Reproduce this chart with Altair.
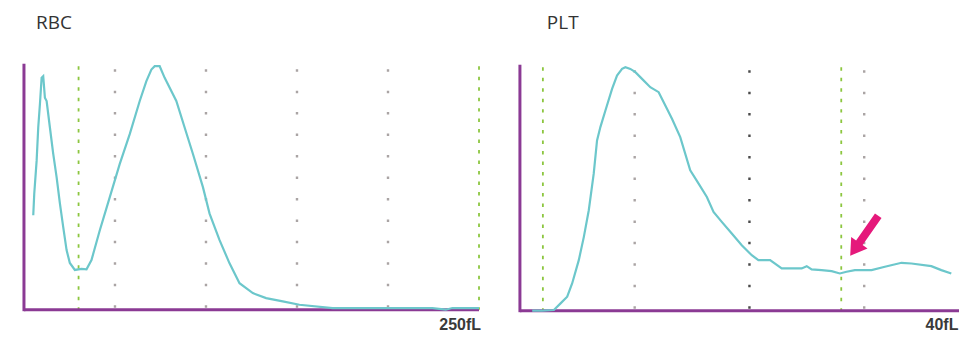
import altair as alt
import pandas as pd

# ---------------- data ----------------
panel_titles = ["RBC", "PLT"]
end_labels = ["250fL", "40fL"]

rbc_fl = [5.1, 5.65, 6.96, 7.84, 8.77, 9.7, 10.58, 11.5, 12.45, 14.25, 16.06, 17.93,
          19.74, 21.55, 23.41, 25.2, 27.96, 31.6, 34.36, 37.1, 41.67, 47.15, 52.63,
          58.11, 63.6, 67.25, 70.0, 71.82, 74.56, 77.3, 83.7, 88.27, 92.84, 98.32,
          101.97, 107.46, 112.94, 118.42, 125.73, 133.04, 142.18, 151.32, 169.59,
          187.87, 224.41, 231.73, 235.38, 250.0]
rbc_count = [285, 350, 450, 550, 621, 700, 705, 640, 630, 550, 471, 400,
             321, 250, 180, 141, 120, 123, 122, 150, 240, 340, 440,
             530, 630, 690, 725, 735, 735, 700, 630, 550, 470, 370,
             290, 210, 140, 80, 50, 35, 25, 15, 5,
             5, 5, 0, 5, 5]

# visible part of the PLT curve
plt_fl = [1.07, 1.94, 2.96, 3.54, 4.12, 4.55, 5.13, 5.57, 6.0, 6.43, 6.72, 7.01,
          7.45, 8.03, 8.46, 8.9, 9.19, 9.62, 10.06, 10.64, 11.36, 12.09, 12.67,
          13.25, 13.97, 14.84, 15.57, 16.29, 16.87, 17.59, 18.46, 19.33, 20.2,
          20.78, 21.8, 22.81, 23.68, 24.55, 24.99, 25.42, 26.29, 27.16, 27.88,
          28.46, 29.19, 30.64, 31.8, 33.25, 34.12, 35.85, 36.72, 37.59]
plt_count = [0, 0, 2, 22, 42, 82, 152, 222, 302, 412, 512, 552,
             602, 667, 707, 727, 732, 727, 717, 697, 672, 657, 617,
             577, 522, 422, 382, 342, 297, 267, 232, 197, 167,
             152, 152, 127, 127, 127, 134, 124, 122, 119, 112,
             117, 122, 122, 132, 144, 142, 134, 122, 112]

rbc_green = [30, 250]
rbc_gray = [50, 100, 150, 200]
plt_green = [2, 28]
plt_gray = [10, 30]
plt_dark = [20]

rbc_top = 735
plt_top = 732
rbc_end = 250

arrow_fl = [28.78]
arrow_count = [165]

# ---------------- geometry (pixels in the svg) ----------------
H = 323
W1 = 487
SP = 5
W2 = 953 - W1 - SP
# left panel: 0 fL at x=16, 1.824 px per fL; 0 count at y=302, 244 px for 735
k1x = 1.824
k1y = 244 / 735
x1dom = [-16 / k1x, (W1 - 16) / k1x]
y1dom = [-(H - 302) / k1y, 302 / k1y]
# right panel: 0 fL at x=21 in panel, 11.5 px per fL; 0 count at y=303, 244 px for 732
k2x = 11.5
k2y = 244 / 732
x2dom = [-21 / k2x, (W2 - 21) / k2x]
y2dom = [-(H - 303) / k2y, 303 / k2y]

PURPLE = "#8b3a94"
CYAN = "#6cc7cb"
GREEN = "#8cc63f"
GRAY = "#aaa4a4"
DARK = "#4a4a4a"
PINK = "#e5197b"


def panel(fl, cnt, top, end, greens, grays, darks, xdom, ydom, w, title, title_pos,
          label, label_pos, arrow=None):
    sx = alt.Scale(domain=xdom, nice=False, zero=False)
    sy = alt.Scale(domain=ydom, nice=False, zero=False)

    def X(f):
        return alt.X(f, type="quantitative", scale=sx, axis=None)

    def Y(f):
        return alt.Y(f, type="quantitative", scale=sy, axis=None)

    layers = []
    g = pd.DataFrame({"x": greens, "top": [top] * len(greens), "b": [0] * len(greens)})
    layers.append(alt.Chart(g).mark_rule(color=GREEN, strokeWidth=1.8, strokeDash=[3.5, 7])
                  .encode(x=X("x"), y=Y("top"), y2="b"))
    gr = pd.DataFrame({"x": grays, "top": [top - 9] * len(grays), "b": [0] * len(grays)})
    layers.append(alt.Chart(gr).mark_rule(color=GRAY, strokeWidth=2.4, strokeDash=[2.5, 19])
                  .encode(x=X("x"), y=Y("top"), y2="b"))
    if darks:
        dk = pd.DataFrame({"x": darks, "top": [top - 9] * len(darks), "b": [0] * len(darks)})
        layers.append(alt.Chart(dk).mark_rule(color=DARK, strokeWidth=2.4, strokeDash=[2.5, 19])
                      .encode(x=X("x"), y=Y("top"), y2="b"))
    # axes
    ya = pd.DataFrame({"x": [0], "y": [0], "y2": [top + 3]})
    layers.append(alt.Chart(ya).mark_rule(color=PURPLE, strokeWidth=3, strokeCap="square")
                  .encode(x=X("x"), y=Y("y"), y2="y2"))
    xa = pd.DataFrame({"x": [0], "x2": [end], "y": [0]})
    layers.append(alt.Chart(xa).mark_rule(color=PURPLE, strokeWidth=3)
                  .encode(x=X("x"), x2="x2", y=Y("y")))
    # curve
    c = pd.DataFrame({"fl": fl, "n": cnt})
    layers.append(alt.Chart(c).mark_line(color=CYAN, strokeWidth=2.2)
                  .encode(x=X("fl"), y=Y("n")))
    # title
    t = pd.DataFrame({"x": [title_pos[0]], "y": [title_pos[1]], "t": [title]})
    layers.append(alt.Chart(t).mark_text(align="left", baseline="alphabetic", font="Open Sans",
                                         fontSize=19, color="#333333")
                  .encode(x=X("x"), y=Y("y"), text="t"))
    # end label
    lb = pd.DataFrame({"x": [label_pos[0]], "y": [label_pos[1]], "t": [label]})
    layers.append(alt.Chart(lb).mark_text(align="right", baseline="alphabetic",
                                          font="Liberation Sans", fontWeight="bold",
                                          fontSize=16, color="#3a3a3a")
                  .encode(x=X("x"), y=Y("y"), text="t"))
    if arrow is not None:
        a = pd.DataFrame({"x": arrow[0], "y": arrow[1]})
        path = "M0,0 L1,1.6 L0.4,1.6 L0.4,4.9 L-0.4,4.9 L-0.4,1.6 L-1,1.6 Z"
        layers.append(alt.Chart(a).mark_point(shape=path, size=400, angle=215, filled=True,
                                              color=PINK, opacity=1)
                      .encode(x=X("x"), y=Y("y")))
    return alt.layer(*layers).properties(width=w, height=H)


left = panel(rbc_fl, rbc_count, rbc_top, rbc_end, rbc_green, rbc_gray, [], x1dom, y1dom, W1,
             panel_titles[0], ((28 - 16) / k1x, (302 - 21) / k1y),
             end_labels[0], ((474 - 16) / k1x, y1dom[0] + 1.5))
right = panel(plt_fl, plt_count, plt_top, x2dom[1], plt_green, plt_gray, plt_dark, x2dom, y2dom, W2,
              panel_titles[1], ((540 - 513) / k2x, (303 - 21) / k2y),
              end_labels[1], (x2dom[1] - 0.05, y2dom[0] + 1.5),
              arrow=(arrow_fl, arrow_count))

chart = alt.hconcat(left, right, spacing=SP, bounds="flush").properties(
    padding=0
).configure_view(stroke=None)

chart.save("out.html", embed_options={"renderer": "svg", "actions": False})
